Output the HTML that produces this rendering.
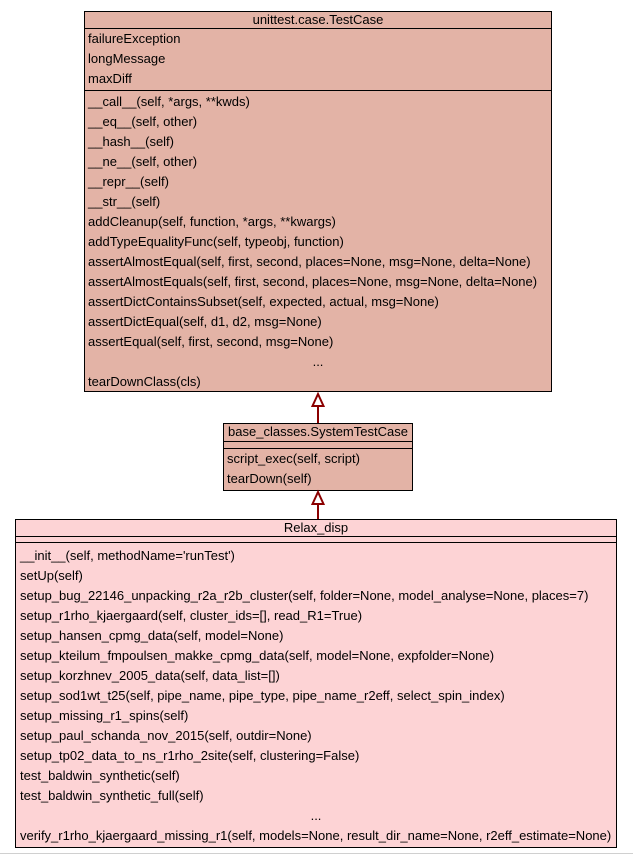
<!DOCTYPE html>
<html><head><meta charset="utf-8"><style>
html,body{margin:0;padding:0;background:#fff;}
svg text{font-family:"Liberation Sans",Arial,sans-serif;font-size:13px;fill:#000;}
</style></head><body>
<svg width="633" height="859" xmlns="http://www.w3.org/2000/svg">
<rect x="0" y="0" width="633" height="859" fill="#fff"/>
<!-- Box 1 -->
<rect x="84.5" y="11.5" width="467" height="380" fill="#e3b3a6" stroke="#000"/>
<line x1="84" y1="28.5" x2="552" y2="28.5" stroke="#000"/>
<line x1="84" y1="90.5" x2="552" y2="90.5" stroke="#000"/>
<text x="318" y="24" text-anchor="middle">unittest.case.TestCase</text>
<text x="88" y="43">failureException</text>
<text x="88" y="63">longMessage</text>
<text x="88" y="83">maxDiff</text>
<text x="88" y="106">__call__(self, *args, **kwds)</text>
<text x="88" y="126">__eq__(self, other)</text>
<text x="88" y="146">__hash__(self)</text>
<text x="88" y="166">__ne__(self, other)</text>
<text x="88" y="186">__repr__(self)</text>
<text x="88" y="206">__str__(self)</text>
<text x="88" y="226">addCleanup(self, function, *args, **kwargs)</text>
<text x="88" y="246">addTypeEqualityFunc(self, typeobj, function)</text>
<text x="88" y="266">assertAlmostEqual(self, first, second, places=None, msg=None, delta=None)</text>
<text x="88" y="286">assertAlmostEquals(self, first, second, places=None, msg=None, delta=None)</text>
<text x="88" y="306">assertDictContainsSubset(self, expected, actual, msg=None)</text>
<text x="88" y="326">assertDictEqual(self, d1, d2, msg=None)</text>
<text x="88" y="346">assertEqual(self, first, second, msg=None)</text>
<text x="318" y="366" text-anchor="middle">...</text>
<text x="88" y="386">tearDownClass(cls)</text>
<!-- arrow 1 -->
<line x1="318" y1="406" x2="318" y2="423" stroke="#8b0000" stroke-width="2"/>
<polygon points="318,394 312.5,406 323.5,406" fill="#fff" stroke="#8b0000" stroke-width="2"/>
<!-- Box 2 -->
<rect x="223.5" y="423.5" width="189" height="67" fill="#e3b3a6" stroke="#000"/>
<line x1="223" y1="441.5" x2="413" y2="441.5" stroke="#000"/>
<line x1="223" y1="448.5" x2="413" y2="448.5" stroke="#000"/>
<text x="318" y="436" text-anchor="middle">base_classes.SystemTestCase</text>
<text x="227" y="463">script_exec(self, script)</text>
<text x="227" y="483">tearDown(self)</text>
<!-- arrow 2 -->
<line x1="318" y1="504" x2="318" y2="519" stroke="#8b0000" stroke-width="2"/>
<polygon points="318,492 312.5,504 323.5,504" fill="#fff" stroke="#8b0000" stroke-width="2"/>
<!-- Box 3 -->
<rect x="15.5" y="519.5" width="601" height="328" fill="#fdd3d5" stroke="#000"/>
<line x1="15" y1="536.5" x2="617" y2="536.5" stroke="#000"/>
<line x1="15" y1="542.5" x2="617" y2="542.5" stroke="#000"/>
<text x="316" y="532" text-anchor="middle">Relax_disp</text>
<text x="20" y="560">__init__(self, methodName='runTest')</text>
<text x="20" y="580">setUp(self)</text>
<text x="20" y="600">setup_bug_22146_unpacking_r2a_r2b_cluster(self, folder=None, model_analyse=None, places=7)</text>
<text x="20" y="620">setup_r1rho_kjaergaard(self, cluster_ids=[], read_R1=True)</text>
<text x="20" y="640">setup_hansen_cpmg_data(self, model=None)</text>
<text x="20" y="660">setup_kteilum_fmpoulsen_makke_cpmg_data(self, model=None, expfolder=None)</text>
<text x="20" y="680">setup_korzhnev_2005_data(self, data_list=[])</text>
<text x="20" y="700">setup_sod1wt_t25(self, pipe_name, pipe_type, pipe_name_r2eff, select_spin_index)</text>
<text x="20" y="720">setup_missing_r1_spins(self)</text>
<text x="20" y="740">setup_paul_schanda_nov_2015(self, outdir=None)</text>
<text x="20" y="760">setup_tp02_data_to_ns_r1rho_2site(self, clustering=False)</text>
<text x="20" y="780">test_baldwin_synthetic(self)</text>
<text x="20" y="800">test_baldwin_synthetic_full(self)</text>
<text x="316" y="820" text-anchor="middle">...</text>
<text x="20" y="840">verify_r1rho_kjaergaard_missing_r1(self, models=None, result_dir_name=None, r2eff_estimate=None)</text>
<line x1="0" y1="853.5" x2="633" y2="853.5" stroke="#d0d0d0"/>
</svg>
</body></html>
